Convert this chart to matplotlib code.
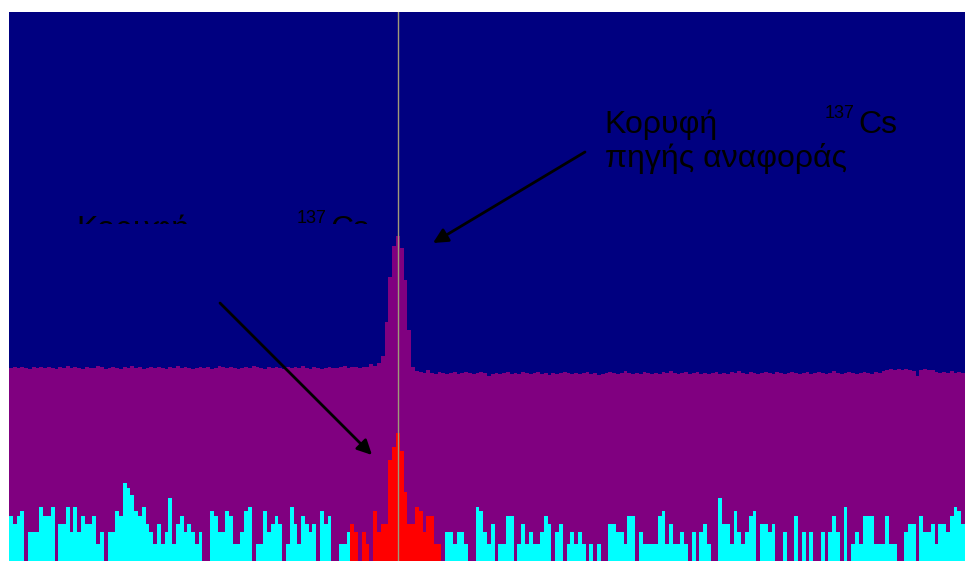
import numpy as np
import matplotlib
matplotlib.use("Agg")
import matplotlib.pyplot as plt
from matplotlib.patches import Rectangle

# Spectrum heights (arbitrary units), one value per channel
purple = [
    193, 194, 193, 194, 193, 192, 194, 193, 194, 193,
    194, 193, 192, 194, 193, 195, 193, 194, 193, 192,
    194, 193, 193, 195, 194, 192, 193, 194, 193, 192,
    194, 193, 195, 193, 194, 192, 193, 194, 193, 194,
    193, 192, 194, 193, 195, 193, 194, 193, 192, 193,
    194, 193, 194, 192, 193, 195, 194, 193, 194, 193,
    192, 193, 194, 193, 195, 194, 193, 192, 194, 193,
    194, 193, 192, 194, 193, 194, 193, 195, 193, 192,
    194, 193, 192, 193, 194, 193, 193, 194, 195, 193,
    194, 194, 193, 194, 194, 197, 195, 198, 205, 239,
    284, 315, 325, 313, 281, 231, 194, 190, 189, 188,
    191, 188, 187, 189, 188, 187, 188, 189, 187, 188,
    189, 188, 187, 188, 189, 188, 185, 187, 188, 187,
    188, 189, 187, 188, 187, 189, 188, 187, 188, 189,
    187, 188, 186, 188, 187, 188, 189, 188, 187, 188,
    187, 188, 189, 187, 188, 186, 187, 188, 189, 188,
    187, 188, 190, 188, 187, 188, 187, 189, 188, 187,
    188, 187, 189, 188, 190, 188, 187, 188, 189, 187,
    188, 189, 187, 188, 187, 188, 189, 187, 188, 187,
    189, 188, 190, 188, 187, 189, 188, 187, 188, 189,
    188, 187, 189, 188, 187, 188, 189, 188, 187, 188,
    189, 187, 188, 189, 188, 187, 188, 190, 188, 187,
    188, 189, 188, 187, 188, 189, 188, 187, 189, 188,
    190, 191, 192, 191, 192, 191, 192, 191, 190, 185,
    191, 192, 191, 191, 189, 188, 189, 188, 190, 188,
    189, 188,
]

cyan = [
    45, 37, 45, 50, 0, 29, 29, 29, 54, 45,
    45, 54, 0, 37, 37, 54, 29, 54, 29, 45,
    37, 37, 45, 17, 29, 0, 29, 29, 50, 45,
    78, 73, 66, 50, 45, 54, 37, 29, 17, 37,
    17, 29, 63, 17, 37, 45, 29, 37, 29, 17,
    29, 0, 0, 50, 45, 29, 29, 50, 45, 17,
    17, 29, 50, 54, 0, 17, 17, 50, 29, 37,
    45, 37, 0, 17, 54, 37, 17, 45, 37, 29,
    37, 0, 50, 37, 45, 0, 0, 17, 17, 29,
    37, 29, 0, 29, 17, 0, 50, 29, 37, 37,
    101, 114, 128, 110, 69, 37, 37, 54, 50, 29,
    45, 45, 17, 17, 0, 29, 29, 17, 29, 29,
    17, 0, 0, 54, 50, 29, 17, 37, 0, 17,
    17, 45, 45, 0, 17, 37, 17, 29, 17, 17,
    29, 45, 37, 0, 29, 37, 0, 17, 29, 17,
    29, 17, 0, 17, 0, 17, 0, 0, 37, 37,
    29, 29, 17, 45, 45, 0, 29, 17, 17, 17,
    17, 45, 50, 17, 37, 17, 17, 29, 17, 0,
    29, 0, 29, 37, 17, 0, 0, 63, 37, 37,
    17, 50, 29, 17, 29, 45, 50, 0, 37, 37,
    29, 37, 0, 0, 29, 0, 0, 45, 0, 29,
    0, 29, 0, 0, 29, 0, 29, 45, 29, 0,
    54, 0, 17, 29, 17, 45, 45, 45, 17, 17,
    17, 45, 17, 17, 0, 0, 29, 37, 37, 0,
    45, 29, 29, 37, 17, 37, 37, 29, 45, 54,
    50, 37,
]

# region of interest (channels drawn in red) and marker channel
roi_start, roi_end = 90, 114
marker_channel = 102.6

label_top = "Κορυφή"
label_bottom = "πηγής αναφοράς"

fig = plt.figure(figsize=(9.67, 5.61), dpi=100)
ax = fig.add_axes([9 / 967, 0, 956 / 967, 549 / 561])
ax.set_facecolor("#000080")
for s in ax.spines.values():
    s.set_visible(False)
ax.set_xticks([])
ax.set_yticks([])

edges = np.arange(len(purple) + 1)
ax.stairs(purple, edges, fill=True, color="#800080", lw=0)
ax.stairs(cyan, np.arange(len(cyan) + 1), fill=True, color="#00ffff", lw=0)
ax.stairs(cyan[roi_start:roi_end], np.arange(roi_start, roi_end + 1),
          fill=True, color="#ff0000", lw=0)
ax.axvline(marker_channel, color="#a09a78", lw=1)

ax.set_xlim(0, len(purple))
ax.set_ylim(0, 549)


def peak_label(x0, y0, clip=None):
    # x0, y0: baseline-left of the first line, axes fraction
    font = dict(family="Liberation Sans", color="black")
    texts = [
        ax.text(x0, y0, label_top, fontsize=23, transform=ax.transAxes, **font),
        ax.text(x0 + 0.001, y0 - 0.062, label_bottom, fontsize=23,
                transform=ax.transAxes, **font),
        ax.text(x0 + 0.2312, y0 + 0.0273, "137", fontsize=13,
                transform=ax.transAxes, **font),
        ax.text(x0 + 0.2657, y0, "Cs", fontsize=23, transform=ax.transAxes, **font),
    ]
    if clip is not None:
        for t in texts:
            t.set_clip_on(True)
            t.set_clip_path(clip)


peak_label(0.6224, 0.7796)
cover = Rectangle((0, 0.6138), 1, 0.4, transform=ax.transAxes)
peak_label(0.0701, 0.5883, clip=cover)

arrow = dict(arrowstyle="-|>", color="black", lw=2, shrinkA=0, shrinkB=0,
             mutation_scale=22)
ax.annotate("", xy=(0.4435, 0.5792), xytext=(0.6025, 0.7450),
            xycoords="axes fraction", arrowprops=arrow)
ax.annotate("", xy=(0.3797, 0.1931), xytext=(0.2207, 0.4699),
            xycoords="axes fraction", arrowprops=arrow)

fig.savefig("out.png", dpi=100)
